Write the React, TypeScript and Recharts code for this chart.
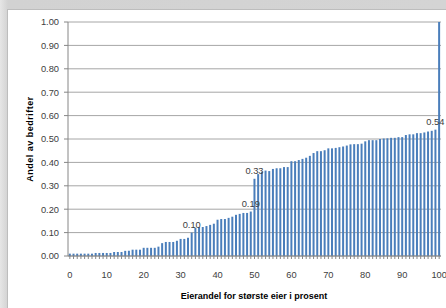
import { BarChart, Bar, XAxis, YAxis, CartesianGrid, LabelList } from 'recharts';

// Andel av bedrifter (kumulativ) per eierandel 0..100 %
const values = [
  0.01, 0.01, 0.01, 0.01, 0.01, 0.01, 0.01, 0.013, 0.013, 0.013,
  0.013, 0.013, 0.017, 0.017, 0.017, 0.022, 0.022, 0.027, 0.027, 0.027,
  0.035, 0.035, 0.035, 0.035, 0.04, 0.055, 0.06, 0.06, 0.06, 0.065,
  0.073, 0.073, 0.078, 0.1, 0.12, 0.124, 0.124, 0.128, 0.133, 0.138,
  0.155, 0.158, 0.158, 0.163, 0.168, 0.176, 0.18, 0.184, 0.184, 0.19,
  0.33, 0.35, 0.36, 0.365, 0.363, 0.372, 0.375, 0.375, 0.38, 0.38,
  0.405, 0.405, 0.41, 0.415, 0.42, 0.428, 0.44, 0.448, 0.448, 0.452,
  0.46, 0.46, 0.462, 0.465, 0.468, 0.472, 0.477, 0.478, 0.478, 0.48,
  0.49, 0.495, 0.495, 0.495, 0.5, 0.502, 0.503, 0.505, 0.505, 0.508,
  0.508, 0.517, 0.52, 0.52, 0.525, 0.525, 0.528, 0.532, 0.535, 0.54,
  1.0,
];

// bars that carry a data label
const labeledShares = [33, 49, 50, 99];

const xTickLabels = [0, 10, 20, 30, 40, 50, 60, 70, 80, 90, 100];
const yTicks = [0, 0.1, 0.2, 0.3, 0.4, 0.5, 0.6, 0.7, 0.8, 0.9, 1.0];

const data = values.map((v, i) => ({
  share: i,
  value: v,
  label: labeledShares.includes(i) ? v : null,
}));

const FONT = '"Liberation Sans", Arial, sans-serif';
const AXIS = '#868686';
const TEXT = '#404040';

const XTick = (props: any) => {
  const { x, y, payload } = props;
  if (!xTickLabels.includes(payload.value)) return <g />;
  return (
    <text x={x} y={y} dy="0.71em" textAnchor="middle" fontSize={9.3} fontFamily={FONT} fill={TEXT}>
      {payload.value}
    </text>
  );
};

const BarLabel = (props: any) => {
  const { x, y, width, value } = props;
  if (value == null) return null;
  return (
    <text x={x + width / 2} y={y - 5} textAnchor="middle" fontSize={9.3} fontFamily={FONT} fill={TEXT}>
      {Number(value).toFixed(2)}
    </text>
  );
};

export default function App() {
  return (
    <div
      style={{
        position: 'fixed',
        left: 0,
        top: 0,
        width: 446,
        height: 308,
        background: 'linear-gradient(90deg, #e6e6e6 0px, #d2d2d2 8px, #d4d4d4 100%)',
        overflow: 'hidden',
      }}
    >
      <div
        style={{
          position: 'absolute',
          left: 7,
          top: 9,
          width: 460,
          height: 320,
          background: '#fff',
          borderLeft: '1px solid #bdbdbd',
          borderTop: '1px solid #bdbdbd',
        }}
      />
      <div style={{ position: 'absolute', left: 0, top: 0 }}>
        <BarChart
          width={446}
          height={308}
          data={data}
          margin={{ top: 22, right: 5, bottom: 22, left: 0 }}
          barCategoryGap="22%"
        >
          <CartesianGrid vertical={false} stroke="#a6a6a6" />
          <XAxis
            dataKey="share"
            interval={0}
            height={30}
            tick={<XTick />}
            tickSize={3}
            tickMargin={12}
            axisLine={{ stroke: AXIS }}
            tickLine={{ stroke: AXIS }}
          />
          <YAxis
            width={68}
            domain={[0, 1]}
            ticks={yTicks}
            interval={0}
            tickFormatter={(v: number) => v.toFixed(2)}
            tick={{ fontSize: 9.3, fontFamily: FONT, fill: TEXT }}
            tickSize={4}
            tickMargin={5}
            axisLine={{ stroke: AXIS }}
            tickLine={{ stroke: AXIS }}
          />
          <Bar dataKey="value" fill="#4a7ebb" isAnimationActive={false}>
            <LabelList dataKey="label" content={<BarLabel />} />
          </Bar>
          <text
            x={254}
            y={299}
            textAnchor="middle"
            fontSize={9}
            fontWeight="bold"
            fontFamily={FONT}
            fill="#000"
          >
            Eierandel for største eier i prosent
          </text>
          <text
            transform="translate(32.5,139) rotate(-90)"
            textAnchor="middle"
            fontSize={9}
            fontWeight="bold"
            letterSpacing={0.5}
            fontFamily={FONT}
            fill="#000"
          >
            Andel av bedrifter
          </text>
        </BarChart>
      </div>
    </div>
  );
}
